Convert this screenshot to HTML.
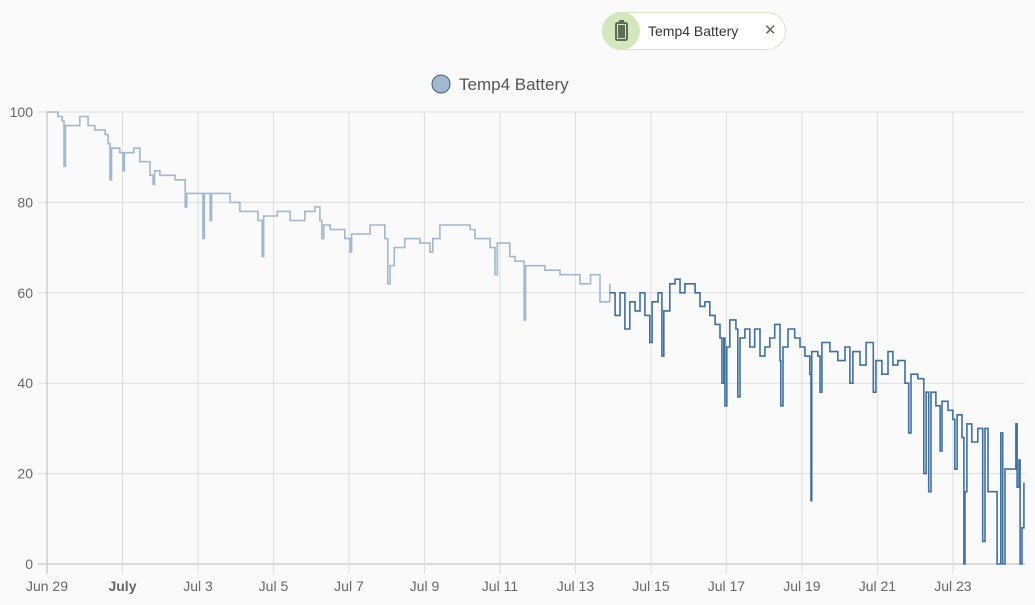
<!DOCTYPE html>
<html><head><meta charset="utf-8"><style>
html,body{margin:0;padding:0;background:#fafafa;width:1035px;height:605px;overflow:hidden;font-family:"Liberation Sans",sans-serif}
#chip{position:absolute;left:602px;top:12px;width:182px;height:36px;border:1px solid #d4e6bc;border-radius:19px;background:#fff}
#chip .ic{position:absolute;left:-1px;top:-1px;width:38px;height:38px;border-radius:19px;background:#d4e6bc}
#chip .lbl{position:absolute;left:45px;top:10px;font-size:14px;color:#333}
#chip .x{position:absolute;left:161px;top:8px;font-size:15px;color:#666}
</style></head><body>
<div id="chip">
 <div class="ic">
  <svg width="38" height="38"><rect x="14" y="11" width="11" height="17" rx="1.5" fill="none" stroke="#5f6b55" stroke-width="2"/><rect x="17" y="8" width="5" height="3" fill="#5f6b55"/><rect x="16" y="13" width="7" height="13" fill="#5f6b55"/></svg>
 </div>
 <div class="lbl">Temp4 Battery</div>
 <div class="x">✕</div>
</div>
<svg id="chart" width="1035" height="605" style="position:absolute;left:0;top:0;pointer-events:none"></svg>
<script>
const lightDays=[0,0.29,0.40,0.45,0.49,0.87,1.09,1.27,1.54,1.62,1.67,1.71,1.93,2.01,2.05,2.30,2.46,2.73,2.81,2.85,2.99,3.39,3.66,3.70,4.05,4.13,4.17,4.32,4.36,4.85,5.11,5.59,5.70,5.74,6.10,6.44,6.83,7.10,7.23,7.28,7.33,7.50,7.89,8.03,8.07,8.56,8.95,9.03,9.09,9.20,9.48,9.88,10.15,10.22,10.41,11.21,11.34,11.74,11.87,11.93,12.26,12.40,12.64,12.68,13.19,13.59,14.12,14.40,14.65,14.91];
const lightVals=[100,99,98,88,97,99,97,96,95,93,85,92,91,87,91,92,89,86,84,87,86,85,79,82,82,72,82,76,82,80,78,76,68,77,78,76,78,79,76,72,75,74,72,69,73,75,72,62,66,70,72,71,69,72,75,74,72,70,64,71,68,67,54,66,65,64,62,64,58,62];
const darkDays=[14.91,15.05,15.18,15.31,15.44,15.58,15.71,15.84,15.97,16.03,16.19,16.29,16.34,16.50,16.64,16.77,16.90,17.17,17.30,17.43,17.56,17.70,17.83,17.88,17.93,17.96,18.01,18.09,18.25,18.30,18.36,18.49,18.62,18.75,18.89,19.02,19.15,19.28,19.42,19.44,19.50,19.63,19.81,19.95,20.08,20.21,20.24,20.26,20.42,20.48,20.53,20.74,20.95,21.14,21.27,21.35,21.54,21.70,21.89,21.96,22.12,22.28,22.41,22.54,22.73,22.83,22.89,23.07,23.23,23.29,23.36,23.42,23.55,23.66,23.71,23.87,24.00,24.05,24.11,24.24,24.29,24.32,24.37,24.50,24.66,24.79,24.85,24.93,25.17,25.27,25.32,25.38,25.62,25.67,25.70,25.75,25.78,25.83,25.88];
const darkVals=[60,55,60,52,58,56,60,55,49,58,60,46,56,62,63,60,62,60,57,58,55,53,50,40,50,35,48,54,52,37,50,52,48,52,46,48,50,53,45,35,48,52,50,48,46,42,14,47,46,38,49,47,45,48,40,47,44,49,38,45,42,47,44,45,40,29,42,41,20,38,16,38,35,25,36,34,32,21,33,28,0,16,31,27,30,5,30,16,0,29,0,21,21,31,17,23,0,8,18];
const yTicks=[0,20,40,60,80,100];
const xTickDays=[0,2,4,6,8,10,12,14,16,18,20,22,24];
const xTickLabels=["Jun 29","July","Jul 3","Jul 5","Jul 7","Jul 9","Jul 11","Jul 13","Jul 15","Jul 17","Jul 19","Jul 21","Jul 23"];
const X0=47,X1=1025,Y0=564,Y1=112,DMAX=25.91;
const sx=d=>X0+(X1-X0)*d/DMAX, sy=v=>Y0-(Y0-Y1)*v/100;
const NS="http://www.w3.org/2000/svg",svg=document.getElementById('chart');
function mk(t,a){const e=document.createElementNS(NS,t);for(const k in a)e.setAttribute(k,a[k]);svg.appendChild(e);return e;}
yTicks.forEach(v=>{
 const l=mk('line',{x1:38,x2:X1,y1:sy(v),y2:sy(v),stroke:v===0?'#bbb':'#ddd','stroke-width':1});
 
 
 const t=mk('text',{x:33,y:sy(v)+5,'text-anchor':'end','font-size':14,fill:'#666'});t.textContent=v;
 
 
});
xTickDays.forEach((d,i)=>{
 const l=mk('line',{x1:sx(d),x2:sx(d),y1:Y1,y2:574,stroke:i===0?'#bbb':'#ddd','stroke-width':1});
 
 
 const t=mk('text',{x:sx(d),y:591,'text-anchor':'middle','font-size':14,fill:'#666','font-weight':i===1?'bold':'normal'});t.textContent=xTickLabels[i];
 
 
});
function step(ds,vs){let p='';for(let i=0;i<ds.length;i++){const x=sx(ds[i]).toFixed(1),y=sy(vs[i]).toFixed(1);if(i===0)p+='M'+x+','+y;else p+='H'+x+'V'+y;}return p;}
const lp=mk('path',{d:step(lightDays,lightVals),fill:'none',stroke:'#a2b8ce','stroke-width':1.6});


const dp=mk('path',{d:step(darkDays,darkVals),fill:'none',stroke:'#3f70a0','stroke-width':1.6});


const lc=mk('circle',{cx:441,cy:84,r:9,fill:'#a2b8ce',stroke:'#3f5f80','stroke-width':1});


const lt=mk('text',{x:459,y:90,'font-size':17,fill:'#555'});lt.textContent='Temp4 Battery';


</script>
</body></html>
